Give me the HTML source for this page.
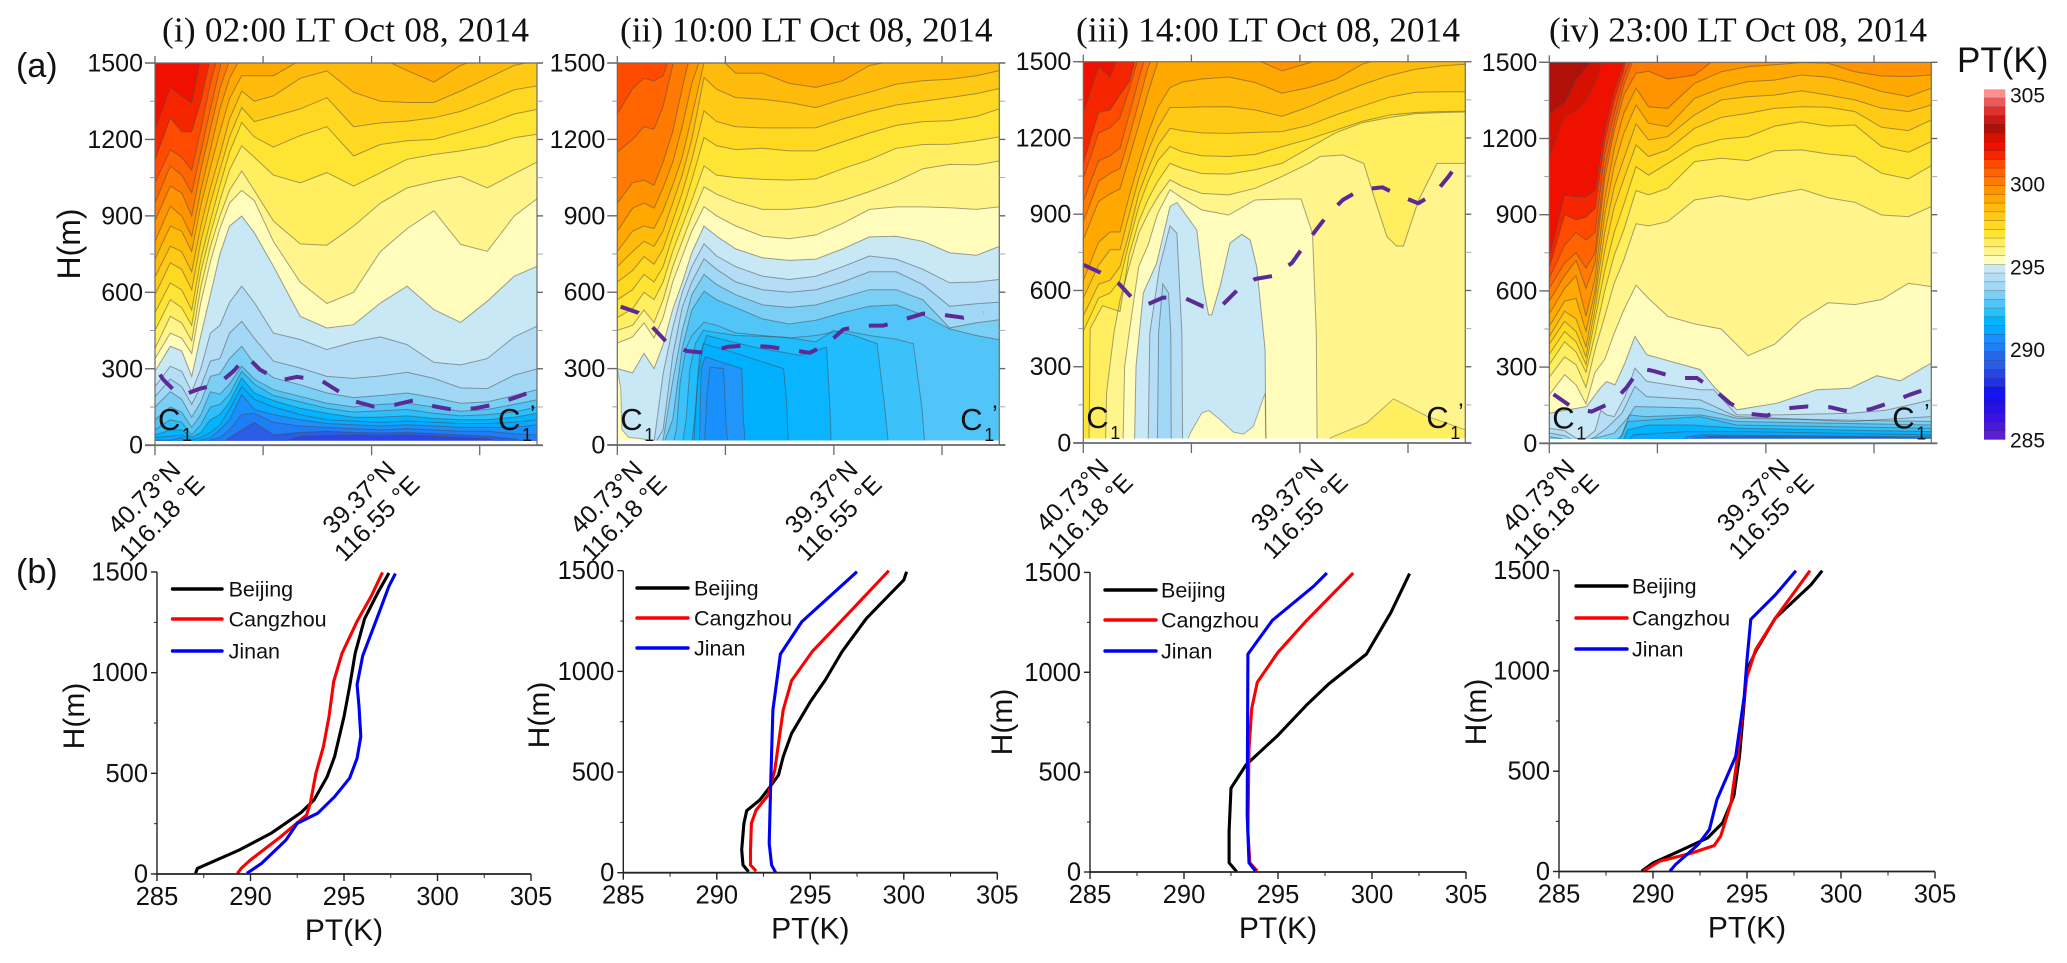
<!DOCTYPE html>
<html lang="en">
<head>
<meta charset="utf-8">
<title>Potential temperature cross-sections and profiles</title>
<style>
html,body{margin:0;padding:0;background:#fff;}
svg{display:block;font-family:"Liberation Sans",sans-serif;}
.serif{font-family:"Liberation Serif",serif;}
</style>
</head>
<body>
<svg id="chart" xmlns="http://www.w3.org/2000/svg" width="2067" height="963" viewBox="0 0 2067 963">
  <rect x="0" y="0" width="2067" height="963" fill="#fff"/>
  <defs id="clip-defs"></defs>
  <text class="serif" x="162" y="41.5" font-size="35.3" fill="#111" textLength="367">(i) 02:00 LT Oct 08, 2014</text>
  <text class="serif" x="620" y="41.5" font-size="35.3" fill="#111">(ii) 10:00 LT Oct 08, 2014</text>
  <text class="serif" x="1076" y="41.5" font-size="35.3" fill="#111" textLength="384">(iii) 14:00 LT Oct 08, 2014</text>
  <text class="serif" x="1549" y="41.5" font-size="35.3" fill="#111" textLength="378">(iv) 23:00 LT Oct 08, 2014</text>
  <text x="16" y="77" font-size="34" fill="#111">(a)</text>
  <text x="16" y="583" font-size="34" fill="#111">(b)</text>
  <text x="80" y="244" font-size="32" fill="#111" text-anchor="middle" transform="rotate(-90 80 244)">H(m)</text>
  <text x="1957" y="72" font-size="35" fill="#111">PT(K)</text>
  <g id="sections"></g>
  <g id="profiles"></g>
  <g id="colorbar"></g>
</svg>
<script>
// ---------- shared band definitions ----------
const bandLevels = [285,285.5,286,286.5,287,287.5,288,288.5,289,289.5,290,290.5,291,291.5,292,292.5,293,293.5,294,294.5,295,295.5,296,296.5,297,297.5,298,298.5,299,299.5,300,300.5,301,301.5,302,302.5,303,303.5,304,304.5];
const bandColors = ['#5a1fd0','#4a18d8','#3a12e0','#2a10e8','#1a10ee','#1414ee','#2030e4','#2a45e0','#2a5ce6','#2468ec','#1f7df5','#1a90ff','#08a8ff','#00b4ff','#2bc0fc','#52c5f8','#7bcff4','#a0d8f6','#b5def6','#c8e8f5','#fffcbc','#fff58c','#ffee60','#ffe533','#ffd822','#ffca16','#ffbb0c','#ffa800','#ff9400','#ff7a00','#ff6400','#ff4a00','#f52500','#f01000','#d81000','#b01008','#c81818','#e03030','#f05858','#ff8f8f'];
const colorbarTicks = [285,290,295,300,305];

// ---------- section data: distance along section (%) and contour heights (m) ----------
const sectionX = [0,4,7,9.6,12,14.5,17,19.5,22.7,26,31,38,45,52,59,66,73,80,87,94,100];
const sectionTicksX = [0,28.3,56.7,85];
const sectionTicksH = [0,300,600,900,1200,1500];
const sectionMinorH = [150,450,750,1050,1350];
const sectionLabelsN = ['40.73°N','39.37°N'];
const sectionLabelsE = ['116.18 °E','116.55 °E'];

const contoursI = [
 [289,[0,0,0,0,0,0,0,0,0,0,0,35,38,40,38,40,35,30,25,0,0]],
 [290,[0,0,0,0,0,0,0,30,60,90,40,50,55,50,48,50,45,40,35,25,0]],
 [290.5,[0,0,0,0,0,20,30,60,120,125,90,75,70,65,60,65,60,55,55,45,40]],
 [291,[20,20,30,0,20,30,60,100,198,140,120,100,85,80,75,80,75,70,70,70,80]],
 [291.5,[30,35,40,20,30,50,80,140,230,180,150,120,100,95,90,95,90,85,85,90,100]],
 [292,[40,60,60,30,50,100,120,170,264,205,175,145,125,110,110,115,105,100,100,110,125]],
 [292.5,[60,100,90,40,80,150,160,200,290,240,195,170,145,130,135,140,125,115,120,130,150]],
 [293,[100,150,130,70,120,210,200,240,310,260,218,192,165,150,160,165,150,133,140,160,178]],
 [293.5,[150,210,180,110,170,270,280,340,388,320,265,237,205,187,195,205,187,165,170,195,218]],
 [294,[190,260,230,160,230,330,340,440,486,420,330,303,270,262,272,286,262,225,222,275,299]],
 [294.5,[230,310,290,210,300,440,470,560,624,560,440,415,375,405,425,395,325,315,340,425,467]],
 [295,[290,388,370,270,430,590,750,860,899,834,702,506,460,473,558,624,532,482,565,663,702]],
 [295.5,[340,440,420,360,560,720,850,950,1000,960,800,640,556,600,760,850,920,788,761,899,967]],
 [296,[380,506,480,410,620,780,900,1000,1076,1000,880,790,785,860,950,1010,1035,1055,1010,1065,1111]],
 [296.5,[450,571,540,470,680,830,960,1080,1175,1130,1060,1030,1070,1017,1069,1122,1141,1155,1174,1207,1220]],
 [297,[520,637,610,530,730,880,1020,1150,1266,1210,1170,1215,1250,1135,1180,1195,1200,1230,1260,1300,1318]],
 [297.5,[590,716,690,610,800,950,1080,1210,1325,1270,1290,1320,1364,1250,1265,1272,1285,1310,1350,1395,1410]],
 [298,[660,781,760,680,860,1010,1140,1280,1390,1350,1371,1440,1469,1385,1350,1345,1345,1390,1440,1490,1510]],
 [298.5,[730,860,840,760,940,1090,1230,1360,1450,1450,1450,1510,1520,1520,1520,1470,1425,1490,1530,1600,1650]],
 [299,[800,938,900,820,1000,1160,1320,1440,1530]],
 [299.5,[880,1017,990,900,1080,1240,1400,1510]],
 [300,[950,1096,1060,990,1150,1320,1480]],
 [300.5,[1030,1160,1130,1080,1240,1420,1560]],
 [301,[1120,1285,1230,1230,1350,1520]],
 [301.5,[1240,1404,1370,1344,1520]]
];
const patchesI = [];
const pblXI = [1.3,2.2,6.6,11.4,16.6,20.5,24,27.5,32.7,37.1,43.2,47.1,52.4,57.2,62.9,67.7,73.3,78.1,83.8,88.6,94.3,99.5];
const pblHI = [277,257,192,220,241,290,349,296,254,268,257,220,172,152,159,176,152,139,145,159,187,215];

const contoursII = [
 [290,[0,0,200,306,300,72,0,0],[0,22.8,23.5,24.3,27.8,28.5,29,100],'#2096fa'],
 [290.5,[0,0,300,346,300,100,0,0],[0,21.5,22,23,32.6,33,33.5,100],'#00b0ff'],
 [291,[0,0,250,398,372,300,176,0,0],[0,20,21,22.5,28.6,43.5,44.3,44.8,100],'#0ab4ff'],
 [291.5,[0,0,150,350,430,385,352,385,137,0,0],[0,19.5,20.5,21.5,23.4,35.6,47.8,54.8,55.7,56,100],'#20bcfc'],
 [292,[0,0,100,300,400,450,430,424,405,450,430,398,150,0,0],[0,17,18,19,20.5,22.5,31,43.5,52,56.6,62,68,70,71,100],'#3cc2fa'],
 [292.5,[0,0,60,250,380,430,482,470,440,430,420,430,450,430,415,398,150,0,0],[0,14.5,15.5,16.5,18,19.5,22.7,26,31,38,45,52,59,66,73,77.5,79.7,80.5,100],'#52c5f8'],
 [293,[0,0,0,0,0,100,380,530,604,570,540,495,475,490,520,545,550,510,456,430,413]],
 [293.5,[0,0,0,0,20,250,450,590,670,630,590,550,540,550,580,610,610,570,460,480,492]],
 [294,[0,0,0,0,60,350,540,640,731,690,640,610,600,610,640,680,680,630,545,555,561]],
 [294.5,[0,0,0,10,280,460,600,700,790,742,700,663,650,663,700,742,730,690,637,640,650]],
 [295,[300,283,360,300,394,532,637,755,860,820,770,735,725,730,770,817,820,800,755,745,780]],
 [295.5,[400,425,480,420,500,640,740,840,936,900,860,820,810,825,870,925,935,935,932,925,935]],
 [296,[450,470,530,480,570,700,800,900,1014,985,955,925,925,935,960,995,1035,1085,1102,1100,1115]],
 [296.5,[500,535,600,570,640,760,860,960,1096,1060,1050,1043,1040,1045,1085,1120,1165,1180,1181,1195,1210]],
 [297,[570,610,670,640,700,820,920,1040,1207,1175,1160,1165,1155,1155,1190,1225,1255,1270,1273,1290,1320]],
 [297.5,[640,685,740,710,770,880,990,1120,1312,1270,1250,1245,1245,1246,1280,1310,1335,1350,1364,1380,1400]],
 [298,[700,760,800,780,840,950,1060,1200,1443,1397,1364,1358,1345,1325,1358,1385,1417,1430,1436,1450,1470]],
 [298.5,[760,840,860,850,920,1020,1130,1290,1500,1530,1460,1460,1420,1404,1430,1490,1510,1525,1530,1540,1550]],
 [299,[840,930,950,930,1010,1110,1250,1420,1560]],
 [299.5,[950,1030,1040,1020,1110,1230,1400,1560]],
 [300,[1150,1200,1250,1240,1330,1490]],
 [300.5,[1300,1400,1440,1430,1450,1560]]
];
const patchesII = [
 [295,[300,220,60,30,25,20,0],[0,0.9,1.2,3,6,8,10]]
];
const pblXII = [0.9,5.5,9.4,12.9,18.2,23.2,29,33.9,39.5,44.8,50.4,54.8,59.2,64,69.6,74.4,80.1,84.9,90.6,95.8];
const pblHII = [543,519,460,404,369,362,386,391,386,375,362,395,454,469,469,490,516,512,500,520];

const contoursIII = [
 [294,[0,0,432,626,590,432,0,0],[0,19.4,19.7,20.8,22.3,22.9,23,100]],
 [294.5,[0,0,432,694,854,825,432,0,0],[0,17,17.4,20,22.7,24.5,25.8,26,100]],
 [295,[0,0,300,590,707,930,946,838,616,504,504,616,786,821,799,694,367,0,0],[0,13.4,13.8,15.7,19.2,22.7,24.5,29.7,31.4,32.8,33.6,35.8,38.4,41.5,43.7,45.4,47.6,47.8,100]],
 [295.5,[0,0,300,432,694,780,904,996,963,917,897,956,960,960,825,430,0,0],[0,10.4,10.8,12,14.5,17,19.5,22.7,26,31,38,45,52,57,60,61,61.2,100]],
 [296,[0,0,200,432,563,694,825,904,969,1035,1009,982,976,1002,1048,1100,1127,1133,1100,930,812,775,775,956,1100,1100],[0,5.8,6.1,8,9.6,12,14.5,17,19.5,22.7,26,31,38,45,52,59,62,68,73.4,76.9,79.5,82,83.8,87.8,92.6,100]],
 [296.5,[0,0,450,540,517,740,870,960,1030,1100,1080,1060,1058,1075,1100,1160,1220,1260,1280,1296,1300,1302],[0,1.5,1.8,5,9.6,12,14.5,17,19.5,22.7,26,31,38,45,52,59,66,73,80,87,94,100]],
 [297,[440,570,590,640,790,930,1030,1110,1166,1145,1130,1127,1135,1166,1195,1230,1265,1290,1300,1304,1305]],
 [297.5,[500,625,640,694,825,980,1080,1170,1238,1228,1220,1218,1222,1225,1250,1290,1325,1360,1380,1382,1382]],
 [298,[570,700,760,760,900,1040,1150,1240,1320,1320,1322,1323,1310,1285,1322,1368,1410,1445,1470,1484,1490]],
 [298.5,[640,790,830,830,970,1100,1220,1320,1398,1420,1432,1440,1418,1376,1398,1430,1490,1520,1540,1540,1540]],
 [299,[800,950,980,1000,1120,1250,1380,1500,1540,1560,1560,1560,1510,1464,1495,1530]],
 [299.5,[870,1030,1060,1080,1200,1340,1480,1560]],
 [300,[950,1110,1130,1160,1290,1430,1560]],
 [300.5,[1040,1220,1240,1280,1390,1520]],
 [301,[1100,1300,1310,1370,1420,1560]],
 [301.5,[1300,1480,1440,1540]]
];
const patchesIII = [
 [296,[0,26,79,174,105,52],[62,65.5,74.2,81.2,90,100]],
 [295,[0,39,118,128,92,43,35,65,196,0],[27,28,31,32.8,35.8,39.3,42,44.5,47.6,47.8]]
];
const pblXIII = [0,4.4,9.2,12.7,16.6,20.9,26.6,31.4,36.5,40.2,45,50,54.6,57.6,61,64,68,72.6,78.3,82.9,87.7,92,95.6,99];
const pblHIII = [701,671,629,572,544,572,570,537,544,600,645,658,708,771,839,898,957,996,1006,972,943,982,1048,1120];

const contoursIV = [
 [290,[0,0,24,22,0],[0,38,42,90,100]],
 [290.5,[0,0,22,28,24,20],[0,36,38,42,90,100]],
 [291,[0,0,25,33,26],[0,34,36,40,100]],
 [291.5,[0,0,33,46,46,33],[0,20,22,36,52,100]],
 [292,[0,0,53,72,72,59,46],[0,19,20.5,26,37,50,100]],
 [292.5,[0,0,86,105,72,59],[0,18,20.5,39.5,49,100]],
 [293,[0,0,30,112,105,112,86,72],[0,16,19,21,25,39.5,49,100]],
 [293.5,[25,20,0,20,40,100,145,138,99,86],[0,3,6,12,17,20.5,22.4,39.5,49,100]],
 [294,[40,30,0,25,60,118,224,184,171,105,99,86,105],[0,4,8,12,15,19,22.4,25.5,39.5,49,59.6,78.8,100]],
 [294.5,[59,50,20,20,50,130,112,105,184,296,244,211,211,112,112,118,130,150,171],[0,4,7,9.6,12,13.5,15,17,19.8,22.4,25.5,39.5,43,49.1,59.6,78.8,88,94,100]],
 [295,[118,145,217,243,230,316,421,349,290,224,132,158,211,217,266,246,316],[0,9.8,13.3,15,17.2,19.8,22.4,25.5,39.5,43,49.1,59.6,70,78.8,85.7,91.9,100]],
 [295.5,[190,270,230,155,280,330,433,525,623,570,500,470,450,345,390,487,553,546,566,630,617]],
 [296,[260,340,310,220,370,499,630,722,864,856,873,958,975,958,981,1000,966,949,899,892,932]],
 [296.5,[310,400,360,280,430,600,740,840,995,978,1004,1109,1122,1113,1152,1155,1139,1129,1063,1041,1093]],
 [297,[350,440,400,310,490,680,830,940,1089,1056,1102,1168,1197,1207,1249,1266,1249,1253,1168,1146,1188]],
 [297.5,[390,480,440,340,530,760,930,1040,1175,1129,1155,1240,1283,1299,1319,1325,1323,1306,1244,1231,1273]],
 [298,[420,520,490,380,570,830,1010,1120,1257,1194,1207,1293,1352,1365,1371,1388,1371,1352,1319,1306,1332]],
 [298.5,[460,560,570,440,600,900,1090,1220,1332,1260,1247,1358,1398,1424,1430,1450,1441,1417,1385,1365,1398]],
 [299,[510,610,660,500,650,960,1160,1300,1398,1325,1319,1417,1463,1483,1490,1499,1496,1463,1446,1444,1450]],
 [299.5,[560,660,720,610,710,1040,1230,1370,1457,1465,1434,1450,1530]],
 [300,[610,710,750,690,750,1080,1260,1410,1540]],
 [300.5,[650,780,830,800,830,1140,1300,1440,1560]],
 [301,[690,900,880,890,925,1190,1350,1470]],
 [301.5,[735,978,971,971,997,1234,1391,1500]],
 [302,[1130,1290,1310,1350,1420,1540]],
 [302.5,[1299,1340,1430,1480,1520]]
];
const patchesIV = [];
const pblXIV = [1.1,2,6.3,11.1,16.8,20.3,23.8,27.7,33.4,38.6,43.4,47.3,52.1,57,62.6,67.4,73.5,78.3,84,88.8,94.3,99.3];
const pblHIV = [193,184,138,125,164,221,296,283,257,257,208,158,116,109,138,145,142,125,134,158,191,217];

// ---------- profile data: [PT (K), height (m)] ----------
const profileTicksPT = [285,290,295,300,305];
const profileMinorPT = [287.5,292.5,297.5,302.5];
const profileTicksH = [0,500,1000,1500];
const profileMinorH = [250,750,1250];
const legendNames = ['Beijing','Cangzhou','Jinan'];
const seriesColors = ['#000000','#fa0000','#0000f5'];

const beijingI = [[287.06,3],[287.16,28],[289.4,119],[291.1,202],[292.7,305],[293.4,368],[294.1,484],[294.5,583],[295,782],[295.3,931],[295.6,1097],[296.1,1268],[296.8,1396],[297.4,1495]];
const cangzhouI = [[289.3,3],[289.5,28],[290,70],[291.5,177],[293,293],[293.2,351],[293.5,500],[293.9,633],[294.2,782],[294.45,956],[294.9,1097],[295.7,1255],[296.45,1379],[297.06,1498]];
const jinanI = [[289.8,3],[290.6,53],[291.9,169],[292.5,252],[293.6,302],[294.5,384],[295.3,476],[295.7,575],[295.9,683],[295.8,832],[295.7,940],[296,1084],[296.8,1280],[297.4,1429],[297.75,1492]];

const beijingII = [[291.7,5],[291.4,38],[291.33,113],[291.45,245],[291.6,308],[292.3,361],[292.85,427],[293.3,485],[293.55,576],[294,692],[295,849],[295.8,957],[296.7,1098],[298,1263],[300,1454],[300.15,1495]];
const cangzhouII = [[292.1,8],[291.8,38],[291.8,113],[291.85,245],[292.1,311],[292.75,386],[293.1,510],[293.55,808],[294,954],[295.1,1098],[297.3,1313],[299.2,1500]];
const jinanII = [[293.15,0],[292.93,38],[292.8,146],[292.88,444],[293,808],[293.4,1086],[294.55,1247],[297.5,1495]];

const beijingIII = [[292.8,2],[292.4,46],[292.4,204],[292.5,420],[293.3,536],[295,685],[296.5,834],[297.7,942],[299.7,1091],[301,1298],[302,1494]];
const cangzhouIII = [[293.9,5],[293.5,46],[293.4,204],[293.46,618],[293.6,818],[293.9,950],[295,1100],[296.5,1257],[299,1497]];
const jinanIII = [[293.8,5],[293.46,46],[293.36,287],[293.4,1091],[294.7,1260],[296.9,1431],[297.6,1497]];

const beijingIV = [[289.4,2],[290,43],[291.2,93],[292.9,167],[293.7,242],[294.3,375],[294.6,574],[295,1005],[295.5,1104],[296.5,1262],[298.4,1428],[299,1499]];
const cangzhouIV = [[289.5,2],[290.35,51],[292,90],[293.25,129],[293.6,176],[294.15,342],[294.5,574],[294.8,823],[295,972],[295.45,1104],[296.5,1262],[298.35,1499]];
const jinanIV = [[290.9,2],[291.2,35],[292.4,134],[293,209],[293.4,358],[294.4,574],[294.85,872],[295,1055],[295.2,1257],[296.5,1378],[297.6,1499]];

// ---------- layout ----------
const sectionPanels = [
 {key:'i',left:155,top:63,bottom:445.2,width:382,contours:contoursI,patches:patchesI,pblX:pblXI,pblH:pblHI},
 {key:'ii',left:617.3,top:63,bottom:445,width:382,contours:contoursII,patches:patchesII,pblX:pblXII,pblH:pblHII,baseColor:'#1a90ff'},
 {key:'iii',left:1083.3,top:61.7,bottom:443,width:382,contours:contoursIII,patches:patchesIII,pblX:pblXIII,pblH:pblHIII},
 {key:'iv',left:1549.3,top:62.3,bottom:443.3,width:382,contours:contoursIV,patches:patchesIV,pblX:pblXIV,pblH:pblHIV}
];
const profilePanels = [
 {key:'i',left:157,right:531,top:572,bottom:874,lines:[beijingI,cangzhouI,jinanI],legX:172.5,legEnd:222,legText:228.6,legY:[589,619,651],hX:84,hY:716},
 {key:'ii',left:623.3,right:997.3,top:570.7,bottom:872.7,lines:[beijingII,cangzhouII,jinanII],legX:637,legEnd:688,legText:694,legY:[588,618,648],hX:549,hY:715},
 {key:'iii',left:1090,right:1466,top:572.4,bottom:872,lines:[beijingIII,cangzhouIII,jinanIII],legX:1105,legEnd:1156,legText:1161,legY:[590,620,651],hX:1012,hY:722},
 {key:'iv',left:1559,right:1935,top:570.5,bottom:871.5,lines:[beijingIV,cangzhouIV,jinanIV],legX:1576,legEnd:1627,legText:1632,legY:[586,618,649],hX:1486,hY:712}
];

const NS = 'http://www.w3.org/2000/svg';
function colorAbove(pt){
  const i = bandLevels.indexOf(pt);
  return bandColors[Math.max(0, i)];
}
function create(tag, parent, attrs){
  const el = document.createElementNS(NS, tag);
  for (const k in attrs) el.setAttribute(k, attrs[k]);
  parent.appendChild(el);
  return el;
}
function drawText(parent, str, x, y, size, anchor, name, rotate){
  const attrs = {x:x, y:y, 'font-size':size, 'text-anchor':anchor, fill:'#111'};
  if (rotate) attrs.transform = 'rotate(' + rotate + ' ' + x + ' ' + y + ')';
  const el = create('text', parent, attrs);
  el.textContent = str;
  
  
  return el;
}
function drawLine(parent, x1, y1, x2, y2, color, w, name){
  const el = create('line', parent, {x1:x1, y1:y1, x2:x2, y2:y2, stroke:color, 'stroke-width':w});
  
  
  return el;
}

// ---------- cross sections ----------
function drawSection(p){
  const host = document.getElementById('sections');
  const g = create('g', host, {});
  
  
  const xS = pct => p.left + pct / 100 * p.width;
  const yS = h => p.bottom - h / 1500 * (p.bottom - p.top);
  const clipId = 'clip-' + p.key;
  const cp = create('clipPath', document.getElementById('clip-defs'), {id:clipId});
  create('rect', cp, {x:p.left, y:p.top, width:p.width, height:p.bottom - p.top - 4.5});
  const plot = create('g', g, {'clip-path':'url(#' + clipId + ')'});
  
  
  const basePt = p.contours[0][0] - 0.5;
  const base = create('rect', plot, {x:p.left, y:p.top, width:p.width, height:p.bottom - p.top, fill:p.baseColor || colorAbove(basePt)});
  
  
  p.contours.forEach(level => {
    const pt = level[0], hs = level[1], xs = level[2] || sectionX;
    const pts = xs.map((x, i) => xS(x).toFixed(1) + ' ' + yS(i < hs.length ? hs[i] : 1700).toFixed(1));
    const area = create('path', plot, {d:'M' + xS(0) + ' ' + yS(1700) + ' L' + pts.join(' L') + ' L' + xS(100) + ' ' + yS(1700) + ' Z', fill:level[3] || colorAbove(pt), stroke:'none'});
    
    
  });
  p.patches.forEach(level => {
    const pt = level[0], hs = level[1], xs = level[2];
    const pts = xs.map((x, i) => xS(x).toFixed(1) + ' ' + yS(hs[i]).toFixed(1));
    const area = create('path', plot, {d:'M' + xS(xs[0]) + ' ' + yS(0) + ' L' + pts.join(' L') + ' L' + xS(xs[xs.length - 1]) + ' ' + yS(0) + ' Z', fill:colorAbove(pt), stroke:'#555', 'stroke-opacity':0.45, 'stroke-width':1});
    
    
  });
  p.contours.forEach(level => {
    const pt = level[0], hs = level[1], xs = level[2] || sectionX;
    const pts = xs.map((x, i) => xS(x).toFixed(1) + ' ' + yS(i < hs.length ? hs[i] : 1700).toFixed(1));
    const line = create('path', plot, {d:'M' + pts.join(' L'), fill:'none', stroke:'#4a4a4a', 'stroke-opacity':0.5, 'stroke-width':1});
    
    
  });
  const pts = p.pblX.map((x, i) => xS(x).toFixed(1) + ' ' + yS(p.pblH[i]).toFixed(1));
  const pbl = create('path', g, {d:'M' + pts.join(' L'), fill:'none', stroke:'#5b2a96', 'stroke-width':4, 'stroke-dasharray':'19 20', 'stroke-linejoin':'round'});
  
  

  const axis = '#6a6a6a';
  drawLine(g, p.left, p.top, p.left, p.bottom, axis, 1.2, 'y-axis-left-' + p.key);
  drawLine(g, p.left + p.width, p.top, p.left + p.width, p.bottom, axis, 1.2, 'y-axis-right-' + p.key);
  drawLine(g, p.left - 10, p.bottom, p.left + p.width + 6, p.bottom, axis, 1.8, 'x-axis-bottom-' + p.key);
  drawLine(g, p.left - 10, p.top, p.left + p.width + 6, p.top, axis, 1.2, 'x-axis-top-' + p.key);
  sectionTicksH.forEach(h => {
    drawLine(g, p.left - 10, yS(h), p.left, yS(h), axis, 1.4, 'y-tick-' + h);
    drawLine(g, p.left + p.width, yS(h), p.left + p.width + 6, yS(h), axis, 1.4, 'y-tick-right-' + h);
    drawText(g, String(h), p.left - 12, yS(h) + 8.5, 25, 'end', 'y-tick-label-' + h);
  });
  sectionMinorH.forEach(h => {
    drawLine(g, p.left - 5, yS(h), p.left, yS(h), '#999', 1, 'y-minor-tick-' + h);
    drawLine(g, p.left + p.width, yS(h), p.left + p.width + 6, yS(h), '#aaa', 1, 'y-minor-tick-right-' + h);
  });
  sectionTicksX.forEach(x => {
    drawLine(g, xS(x), p.bottom, xS(x), p.bottom + 10, axis, 1.3, 'x-tick-' + x);
    drawLine(g, xS(x), p.top - 7, xS(x), p.top, axis, 1.3, 'x-tick-top-' + x);
  });
  const labelOffsets = [27, 242];
  sectionLabelsN.forEach((label, i) => {
    const x = p.left + labelOffsets[i];
    drawText(g, label, x, p.bottom + 26, 25, 'end', 'x-label-latitude-' + i, -45);
    drawText(g, sectionLabelsE[i], x + 24, p.bottom + 41, 25, 'end', 'x-label-longitude-' + i, -45);
  });
  const endBase = p.bottom - 15;
  drawText(g, 'C', p.left + 3, endBase, 31, 'start', 'section-start-label');
  drawText(g, '1', p.left + 27, endBase + 11, 18, 'start', 'section-start-subscript');
  drawText(g, 'C', p.left + 343, endBase, 31, 'start', 'section-end-label');
  drawText(g, '1', p.left + 367, endBase + 11, 18, 'start', 'section-end-subscript');
  drawText(g, '’', p.left + 375, endBase - 8, 24, 'start', 'section-end-prime');
}
sectionPanels.forEach(drawSection);

// ---------- profiles ----------
function drawProfile(p){
  const host = document.getElementById('profiles');
  const g = create('g', host, {});
  
  
  const xS = t => p.left + (t - 285) / 20 * (p.right - p.left);
  const yS = h => p.bottom - h / 1500 * (p.bottom - p.top);
  p.lines.forEach((series, i) => {
    const pts = series.map(d => xS(d[0]).toFixed(1) + ' ' + yS(d[1]).toFixed(1));
    const line = create('path', g, {d:'M' + pts.join(' L'), fill:'none', stroke:seriesColors[i], 'stroke-width':3.1, 'stroke-linejoin':'round'});
    
    
  });
  const ink = '#222';
  drawLine(g, p.left, p.top, p.left, p.bottom, ink, 1.4, 'profile-y-axis-' + p.key);
  drawLine(g, p.left, p.bottom, p.right, p.bottom, ink, 1.8, 'profile-x-axis-' + p.key);
  profileTicksH.forEach(h => {
    drawLine(g, p.left - 6, yS(h), p.left, yS(h), ink, 1.4, 'profile-y-tick-' + h);
    drawText(g, String(h), p.left - 9, yS(h) + 8.5, 25.5, 'end', 'profile-y-tick-label-' + h);
  });
  profileMinorH.forEach(h => {
    drawLine(g, p.left - 3, yS(h), p.left, yS(h), ink, 1, 'profile-y-minor-tick-' + h);
  });
  profileTicksPT.forEach(t => {
    drawLine(g, xS(t), p.bottom, xS(t), p.bottom + 7, ink, 1.4, 'profile-x-tick-' + t);
    drawText(g, String(t), xS(t), p.bottom + 31, 25.5, 'middle', 'profile-x-tick-label-' + t);
  });
  profileMinorPT.forEach(t => {
    drawLine(g, xS(t), p.bottom, xS(t), p.bottom + 4, ink, 1, 'profile-x-minor-tick-' + t);
  });
  drawText(g, 'PT(K)', (p.left + p.right) / 2, p.bottom + 66, 30, 'middle', 'profile-x-axis-title');
  drawText(g, 'H(m)', p.hX, p.hY, 30, 'middle', 'profile-y-axis-title', -90);
  legendNames.forEach((name, i) => {
    const entry = drawLine(g, p.legX, p.legY[i], p.legEnd, p.legY[i], seriesColors[i], 3.4, 'legend-line-' + name.toLowerCase());
    entry.setAttribute('stroke-linecap', 'round');
    drawText(g, name, p.legText, p.legY[i] + 7.5, 21.5, 'start', 'legend-entry-' + name.toLowerCase());
  });
}
profilePanels.forEach(drawProfile);

// ---------- colorbar ----------
(function(){
  const host = document.getElementById('colorbar');
  const barX = 1984, barW = 21.3, barBottom = 439.3, barTop = 89.3;
  const yT = t => barBottom - (t - 285) / 20 * (barBottom - barTop);
  bandLevels.forEach((t, i) => {
    const band = create('rect', host, {x:barX, y:yT(t + 0.5).toFixed(2), width:barW, height:(yT(t) - yT(t + 0.5) + 0.3).toFixed(2), fill:bandColors[i]});
    
    
    drawLine(host, barX, yT(t), barX + barW, yT(t), '#333', 0.6, 'colorbar-separator-' + t).setAttribute('stroke-opacity', 0.45);
  });
  const labelY = {285:447.5, 290:357, 295:274.5, 300:191.5, 305:102.5};
  colorbarTicks.forEach(t => {
    drawText(host, String(t), 2010, labelY[t], 21, 'start', 'colorbar-tick-label-' + t);
  });
})();
</script>
</body>
</html>
